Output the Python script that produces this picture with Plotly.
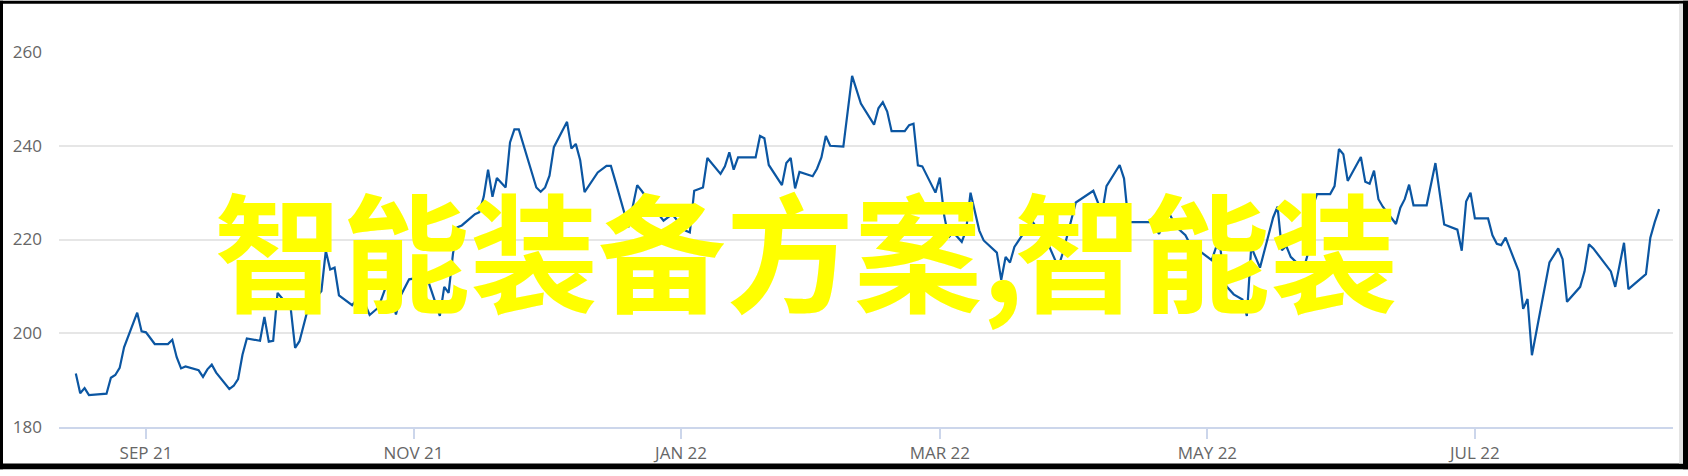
import plotly.graph_objects as go

# price series
dates = [
    "2021-08-16", "2021-08-17", "2021-08-18", "2021-08-19", "2021-08-23", "2021-08-24",
    "2021-08-25", "2021-08-26", "2021-08-27", "2021-08-30", "2021-08-31", "2021-09-01",
    "2021-09-03", "2021-09-06", "2021-09-07", "2021-09-08", "2021-09-09", "2021-09-10",
    "2021-09-13", "2021-09-14", "2021-09-15", "2021-09-16", "2021-09-17", "2021-09-20",
    "2021-09-21", "2021-09-22", "2021-09-23", "2021-09-24", "2021-09-27", "2021-09-28",
    "2021-09-29", "2021-09-30", "2021-10-01", "2021-10-04", "2021-10-05", "2021-10-06",
    "2021-10-08", "2021-10-11", "2021-10-12", "2021-10-13", "2021-10-14", "2021-10-15",
    "2021-10-18", "2021-10-20", "2021-10-22", "2021-10-24", "2021-10-26", "2021-10-28",
    "2021-10-29", "2021-10-31", "2021-11-04", "2021-11-07", "2021-11-08", "2021-11-09",
    "2021-11-10", "2021-11-11", "2021-11-12", "2021-11-15", "2021-11-16", "2021-11-17",
    "2021-11-18", "2021-11-19", "2021-11-20", "2021-11-22", "2021-11-23", "2021-11-24",
    "2021-11-25", "2021-11-29", "2021-11-30", "2021-12-01", "2021-12-02", "2021-12-03",
    "2021-12-06", "2021-12-07", "2021-12-08", "2021-12-09", "2021-12-10", "2021-12-13",
    "2021-12-15", "2021-12-16", "2021-12-17", "2021-12-19", "2021-12-20", "2021-12-22",
    "2021-12-23", "2021-12-26", "2021-12-28", "2021-12-30", "2022-01-02", "2022-01-03",
    "2022-01-04", "2022-01-06", "2022-01-07", "2022-01-10", "2022-01-11", "2022-01-12",
    "2022-01-13", "2022-01-14", "2022-01-18", "2022-01-19", "2022-01-20", "2022-01-21",
    "2022-01-24", "2022-01-25", "2022-01-26", "2022-01-27", "2022-01-28", "2022-01-31",
    "2022-02-01", "2022-02-02", "2022-02-03", "2022-02-04", "2022-02-07", "2022-02-09",
    "2022-02-11", "2022-02-14", "2022-02-15", "2022-02-16", "2022-02-17", "2022-02-18",
    "2022-02-21", "2022-02-22", "2022-02-23", "2022-02-24", "2022-02-25", "2022-02-28",
    "2022-03-01", "2022-03-02", "2022-03-03", "2022-03-04", "2022-03-06", "2022-03-07",
    "2022-03-08", "2022-03-10", "2022-03-11", "2022-03-14", "2022-03-15", "2022-03-16",
    "2022-03-17", "2022-03-18", "2022-03-20", "2022-03-22", "2022-03-26", "2022-03-28",
    "2022-03-29", "2022-03-31", "2022-04-01", "2022-04-05", "2022-04-07", "2022-04-08",
    "2022-04-11", "2022-04-12", "2022-04-13", "2022-04-18", "2022-04-20", "2022-04-22",
    "2022-04-24", "2022-04-26", "2022-04-27", "2022-05-02", "2022-05-03", "2022-05-04",
    "2022-05-05", "2022-05-07", "2022-05-09", "2022-05-10", "2022-05-11", "2022-05-13",
    "2022-05-16", "2022-05-17", "2022-05-18", "2022-05-19", "2022-05-20", "2022-05-22",
    "2022-05-23", "2022-05-24", "2022-05-25", "2022-05-26", "2022-05-29", "2022-05-30",
    "2022-05-31", "2022-06-01", "2022-06-02", "2022-06-05", "2022-06-06", "2022-06-07",
    "2022-06-08", "2022-06-09", "2022-06-10", "2022-06-13", "2022-06-14", "2022-06-15",
    "2022-06-16", "2022-06-17", "2022-06-20", "2022-06-22", "2022-06-24", "2022-06-27",
    "2022-06-28", "2022-06-29", "2022-06-30", "2022-07-01", "2022-07-04", "2022-07-05",
    "2022-07-06", "2022-07-07", "2022-07-08", "2022-07-11", "2022-07-12", "2022-07-13",
    "2022-07-14", "2022-07-18", "2022-07-20", "2022-07-21", "2022-07-22", "2022-07-25",
    "2022-07-26", "2022-07-27", "2022-07-28", "2022-08-01", "2022-08-02", "2022-08-04",
    "2022-08-05", "2022-08-09", "2022-08-10", "2022-08-11", "2022-08-12",
]
prices = [
    191.4, 187.2, 188.3, 186.8, 187.1, 190.5,
    191.1, 192.6, 197.0, 204.4, 200.4, 200.2,
    197.7, 197.7, 198.6, 194.9, 192.5, 192.9,
    192.1, 190.7, 192.3, 193.3, 191.6, 188.1,
    188.8, 190.2, 195.4, 198.9, 198.4, 203.5,
    198.2, 198.4, 208.6, 205.3, 196.9, 198.3,
    205.5, 209.0, 217.6, 213.6, 214.0, 208.1,
    206.0, 208.3, 203.9, 205.5, 210.7, 204.0,
    207.9, 211.5, 212.1, 203.7, 209.9, 208.6,
    217.0, 222.6, 223.0, 225.4, 225.8, 229.1,
    234.9, 229.1, 233.1, 231.1, 240.7, 243.5,
    243.5, 231.1, 230.2, 231.1, 233.6, 239.7,
    245.1, 239.4, 240.4, 236.9, 230.1, 234.3,
    235.7, 235.7, 232.5, 226.2, 222.6, 231.6,
    230.4, 226.5, 224.0, 225.4, 221.9, 221.5,
    230.4, 231.1, 237.4, 234.0, 235.6, 238.6,
    234.9, 237.5, 237.5, 242.1, 241.6, 235.9,
    231.6, 236.3, 237.4, 230.9, 234.4, 233.5,
    235.1, 237.5, 242.1, 240.0, 239.8, 254.9,
    249.0, 244.5, 248.0, 249.3, 247.3, 243.1,
    243.1, 244.4, 244.7, 235.8, 235.6, 230.0,
    233.2, 225.1, 220.4, 221.6, 219.5, 222.0,
    230.0, 221.9, 219.8, 217.2, 211.4, 216.3,
    215.1, 218.4, 221.2, 224.0, 218.4, 214.1,
    217.0, 224.0, 227.9, 230.4, 225.6, 231.4,
    235.9, 233.0, 223.7, 223.7, 221.2, 226.1,
    222.6, 220.9, 219.1, 215.6, 218.4, 217.9,
    210.4, 208.3, 207.2, 203.7, 218.4, 214.0,
    224.7, 227.0, 217.7, 218.6, 216.3, 214.5,
    213.9, 217.2, 227.0, 229.7, 229.7, 231.4,
    239.3, 238.2, 232.5, 237.6, 232.3, 231.9,
    234.7, 228.6, 227.0, 223.3, 226.8, 228.6,
    231.7, 227.3, 227.3, 236.3, 223.2, 222.1,
    217.6, 228.1, 230.0, 224.5, 224.5, 220.9,
    219.1, 218.8, 220.4, 213.2, 205.2, 207.3,
    195.3, 215.1, 218.1, 215.8, 206.7, 209.9,
    213.2, 219.0, 218.1, 213.2, 209.9, 219.3,
    209.4, 212.6, 220.4, 223.7, 226.5,
]

tick_dates = ["2021-09-01", "2021-11-01", "2022-01-01", "2022-03-01", "2022-05-01", "2022-07-01"]
tick_labels = ["SEP 21", "NOV 21", "JAN 22", "MAR 22", "MAY 22", "JUL 22"]
y_ticks = [180, 200, 220, 240, 260]
overlay_text = "智能装备方案,智能装"

W, H = 1688, 476
ML, MR, MT, MB = 59, 15, 52, 43
pw, ph = W - ML - MR, H - MT - MB

def px(x):  # pixel column -> paper x
    return (x - ML) / pw

def py(y):  # pixel row -> paper y
    return (H - MB - y) / ph

fig = go.Figure()
fig.add_trace(go.Scatter(x=dates, y=prices, mode="lines",
                         line=dict(color="#0b56a2", width=2.2),
                         hoverinfo="skip", showlegend=False))

# frame of the screenshot
frame = [
    (0, 0, W, 3, "#000000"),
    (0, 0, 3, H, "#000000"),
    (0, H - 6, W, H, "#000000"),
    (W - 5, 0, W, H, "#000000"),
    (W - 9, 3, W - 5, H - 6, "#e4e4e4"),
]
for x0, y0, x1, y1, c in frame:
    fig.add_shape(type="rect", xref="paper", yref="paper",
                  x0=px(x0), x1=px(x1), y0=py(y1), y1=py(y0),
                  fillcolor=c, line=dict(width=0), layer="above")

# the overlay is set in two runs: the comma in the source is narrower than Noto's
cut = overlay_text.index(",") + 1
big = dict(family="Noto Sans CJK SC", size=128, color="#ffff00", weight="bold")
for part, left in [(overlay_text[:cut], 212), (overlay_text[cut:], 1012)]:
    fig.add_annotation(text=part, xref="paper", yref="paper",
                       x=px(left), y=py(251), xanchor="left", yanchor="middle",
                       showarrow=False, font=big)

fig.update_layout(
    width=W, height=H, autosize=False,
    margin=dict(l=ML, r=MR, t=MT, b=MB),
    paper_bgcolor="#ffffff", plot_bgcolor="#ffffff",
    font=dict(family="Open Sans", size=17, color="#666666"),
)
fig.update_xaxes(range=["2021-08-12 04:00", "2022-08-15 04:00"],
                 tickvals=tick_dates, ticktext=tick_labels,
                 showgrid=False, showline=True, linecolor="#ccd6eb", linewidth=2,
                 ticks="outside", ticklen=10, tickwidth=1.5, tickcolor="#ccd6eb",
                 zeroline=False)
fig.update_yaxes(range=[180, 260], tickvals=y_ticks,
                 showgrid=True, gridcolor="#e6e6e6", gridwidth=1.5,
                 showline=False, zeroline=False, ticks="", ticklabelstandoff=16)

fig.write_html("out.html", config={"displayModeBar": False},
               post_script="document.body.style.margin='0';")
